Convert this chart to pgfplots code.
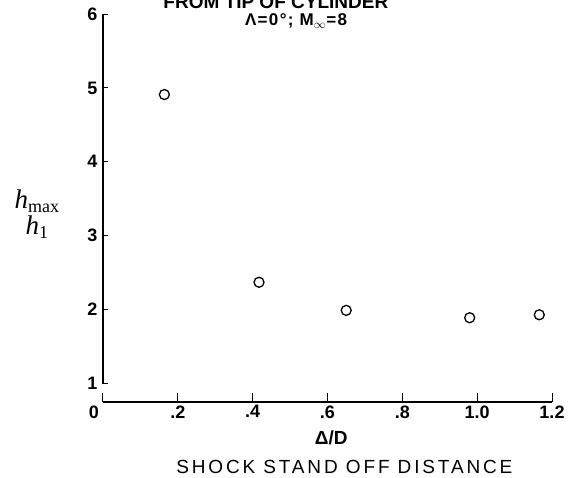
\documentclass[border=0pt]{standalone}
\usepackage{fontspec}
\setmainfont{Liberation Sans}
\newfontfamily\serif{Liberation Serif}
\usepackage{pgfplots}
\pgfplotsset{compat=1.18}
\begin{document}
\begin{tikzpicture}
\begin{axis}[
    scale only axis,
    width=449pt, height=388pt,
    xmin=0, xmax=1.2,
    ymin=0.75, ymax=6,
    axis lines=left,
    axis line style={draw=none,-},
    tick align=inside,
    xtick={0,0.2,0.4,0.6,0.8,1.0,1.2},
    xticklabels={\hspace*{-18pt}0,.2,.4,.6,.8,1.0,1.2},
    ytick={1,2,3,4,5,6},
    xtick style={line width=1pt, black, /pgfplots/major tick length=9pt},
    ytick style={line width=0.8pt, black, /pgfplots/major tick length=5pt},
    tick label style={font=\fontsize{18}{20}\selectfont\bfseries},
    /pgf/number format/assume math mode=true,
    yticklabel style={xshift=-2pt},
    clip=false,
]
\addplot[only marks, mark=o, mark size=5pt, line width=1.3pt, black] coordinates {
    (0.164,4.91) (0.417,2.37) (0.650,1.99) (0.980,1.89) (1.166,1.93)
};

% broken axis lines
\draw[line width=2.4pt] (axis cs:0,6) -- (axis cs:0,1);
\draw[line width=1.2pt] (axis cs:0,0.75) -- (axis cs:1.2,0.75);

% title (cut off at top in the original)
\node[font=\fontsize{19}{22}\selectfont\bfseries, anchor=base] at (axis cs:0.462,6.08) {FROM TIP OF CYLINDER};
\node[font=\fontsize{17}{19}\selectfont\bfseries\addfontfeatures{LetterSpace=8}] at (axis cs:0.516,5.905) {Λ=0°; M$_{\infty}$=8};

% y label
\node[font=\fontsize{27}{29}\selectfont\serif] at (axis cs:-0.177,3.46) {\textit{h}\raisebox{-4pt}{\fontsize{18}{18}\selectfont max}};
\node[font=\fontsize{27}{29}\selectfont\serif] at (axis cs:-0.177,3.11) {\textit{h}\raisebox{-4pt}{\fontsize{18}{18}\selectfont 1}};

% x labels
\node[font=\fontsize{19}{21}\selectfont\bfseries] at (axis cs:0.61,0.266) {Δ/D};
\node[font=\fontsize{19}{21}\selectfont\addfontfeatures{LetterSpace=15}] at (axis cs:0.645,-0.126) {SHOCK STAND OFF DISTANCE};
\end{axis}
\pgfresetboundingbox
\path (-103pt,-76pt) rectangle (465pt,402pt);
\end{tikzpicture}
\end{document}
